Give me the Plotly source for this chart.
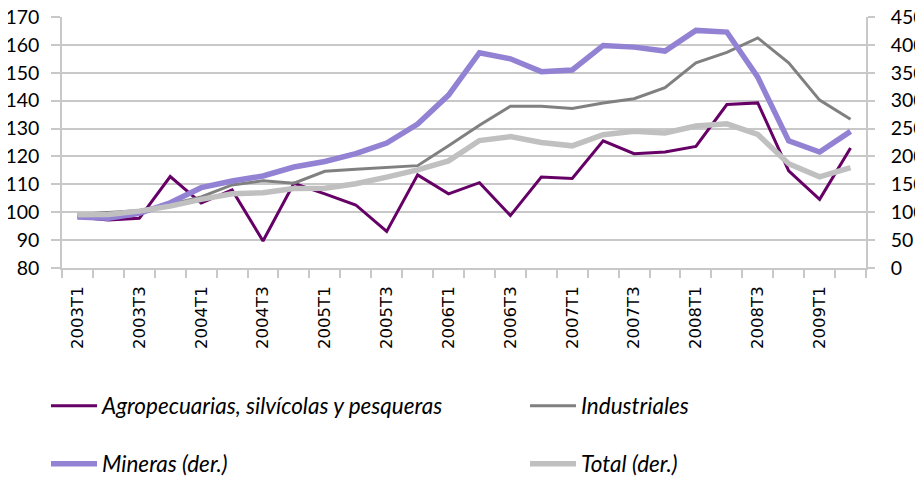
"""Indices de exportaciones por sector, 2003T1-2009T2."""

import plotly.graph_objects as go

quarters = [
    "2003T1", "2003T2", "2003T3", "2003T4",
    "2004T1", "2004T2", "2004T3", "2004T4",
    "2005T1", "2005T2", "2005T3", "2005T4",
    "2006T1", "2006T2", "2006T3", "2006T4",
    "2007T1", "2007T2", "2007T3", "2007T4",
    "2008T1", "2008T2", "2008T3", "2008T4",
    "2009T1", "2009T2",
]

agro = [
    98.3, 97.2, 97.8, 112.8, 103.3, 108.0, 89.7, 110.4, 106.6, 102.6,
    93.1, 113.4, 106.6, 110.6, 98.8, 112.6, 112.1, 125.6, 121.0, 121.6,
    123.6, 138.6, 139.2, 114.8, 104.6, 123.0,
]
industriales = [
    99.2, 99.8, 100.6, 102.8, 105.5, 109.8, 111.3, 110.4, 114.7, 115.4,
    116.0, 116.7, 123.8, 131.2, 138.0, 138.0, 137.2, 139.2, 140.7, 144.7,
    153.6, 157.3, 162.5, 153.6, 140.2, 133.3,
]
mineras = [
    91.5, 89.0, 98.0, 117.0, 144.0, 156.0, 165.0, 181.0, 191.0, 205.0,
    224.0, 258.0, 310.0, 386.0, 375.0, 352.0, 355.0, 399.0, 396.0, 389.0,
    426.0, 423.0, 342.0, 228.0, 208.0, 245.0,
]
total = [
    95.5, 96.0, 102.0, 111.0, 123.0, 133.0, 135.0, 142.5, 143.0, 151.0,
    163.0, 176.0, 192.0, 228.5, 235.5, 225.0, 219.0, 239.0, 245.0, 242.0,
    254.5, 258.5, 239.5, 187.0, 163.5, 180.0,
]

# the page body keeps its default 8px margin, so the figure is drawn 8px in
W, H, OFF = 915, 471, 8
GRID = "#c8c8c8"
TICK_FONT = {"family": "Lato", "size": 19.5, "color": "#000000"}
LEGEND_FONT = {"family": "Lato", "size": 22.5, "color": "#000000", "style": "italic"}

# (name, values, colour, width, axis, legend id, legend left px, legend centre y px)
series = (
    ("Agropecuarias, silvícolas y pesqueras", agro, "#660066", 3, "y", "legend", 46, 406),
    ("Industriales", industriales, "#808080", 3, "y", "legend2", 525, 406),
    ("Mineras (der.)", mineras, "#9381d3", 5.5, "y2", "legend3", 46, 464),
    ("Total (der.)", total, "#c0c0c0", 5.5, "y2", "legend4", 525, 464),
)

fig = go.Figure()
legends = {}
for name, values, color, width, axis, legend, lx, ly in series:
    fig.add_trace(
        go.Scatter(
            x=quarters,
            y=values,
            mode="lines",
            name=name,
            yaxis=axis,
            legend=legend,
            line={"color": color, "width": width},
        )
    )
    legends[legend] = {
        "xref": "container",
        "yref": "container",
        "x": (lx - OFF) / W,
        "y": 1 - (ly - OFF) / H,
        "xanchor": "left",
        "yanchor": "middle",
        "itemwidth": 46,
        "font": LEGEND_FONT,
        "bgcolor": "rgba(0,0,0,0)",
    }

fig.update_layout(
    template="none",
    width=W,
    height=H,
    margin={"l": 62 - OFF, "r": W - (866 - OFF), "t": 17 - OFF, "b": H - (268 - OFF), "autoexpand": False},
    paper_bgcolor="white",
    plot_bgcolor="white",
    showlegend=True,
    **legends,
    xaxis={
        "type": "category",
        "automargin": False,
        "tickson": "boundaries",
        "ticklabelstep": 2,
        "ticks": "outside",
        "ticklen": 8,
        "tickcolor": GRID,
        "tickwidth": 1.5,
        "tickangle": -90,
        "ticklabelstandoff": 10,
        "tickfont": {"family": "DejaVu Sans", "size": 16.5, "color": "#000000"},
        "showgrid": False,
        "showline": True,
        "linecolor": GRID,
        "linewidth": 1.5,
        "range": [-0.5, len(quarters) - 0.5],
    },
    yaxis={
        "automargin": False,
        "range": [80, 170],
        "dtick": 10,
        "tick0": 80,
        "ticks": "outside",
        "ticklen": 9,
        "tickcolor": GRID,
        "tickwidth": 1.5,
        "ticklabelstandoff": 8,
        "ticklabeloverflow": "allow",
        "tickfont": TICK_FONT,
        "showgrid": True,
        "gridcolor": GRID,
        "gridwidth": 1.5,
        "showline": True,
        "linecolor": GRID,
        "linewidth": 1.5,
        "zeroline": False,
    },
    yaxis2={
        "automargin": False,
        "overlaying": "y",
        "side": "right",
        "range": [0, 450],
        "dtick": 50,
        "tick0": 0,
        "ticks": "outside",
        "ticklen": 7,
        "tickcolor": GRID,
        "tickwidth": 1.5,
        "ticklabelstandoff": 12,
        "ticklabeloverflow": "allow",
        "tickfont": TICK_FONT,
        "showgrid": False,
        "showline": True,
        "linecolor": GRID,
        "linewidth": 1.5,
        "zeroline": False,
    },
)

fig.write_html("out.html")
